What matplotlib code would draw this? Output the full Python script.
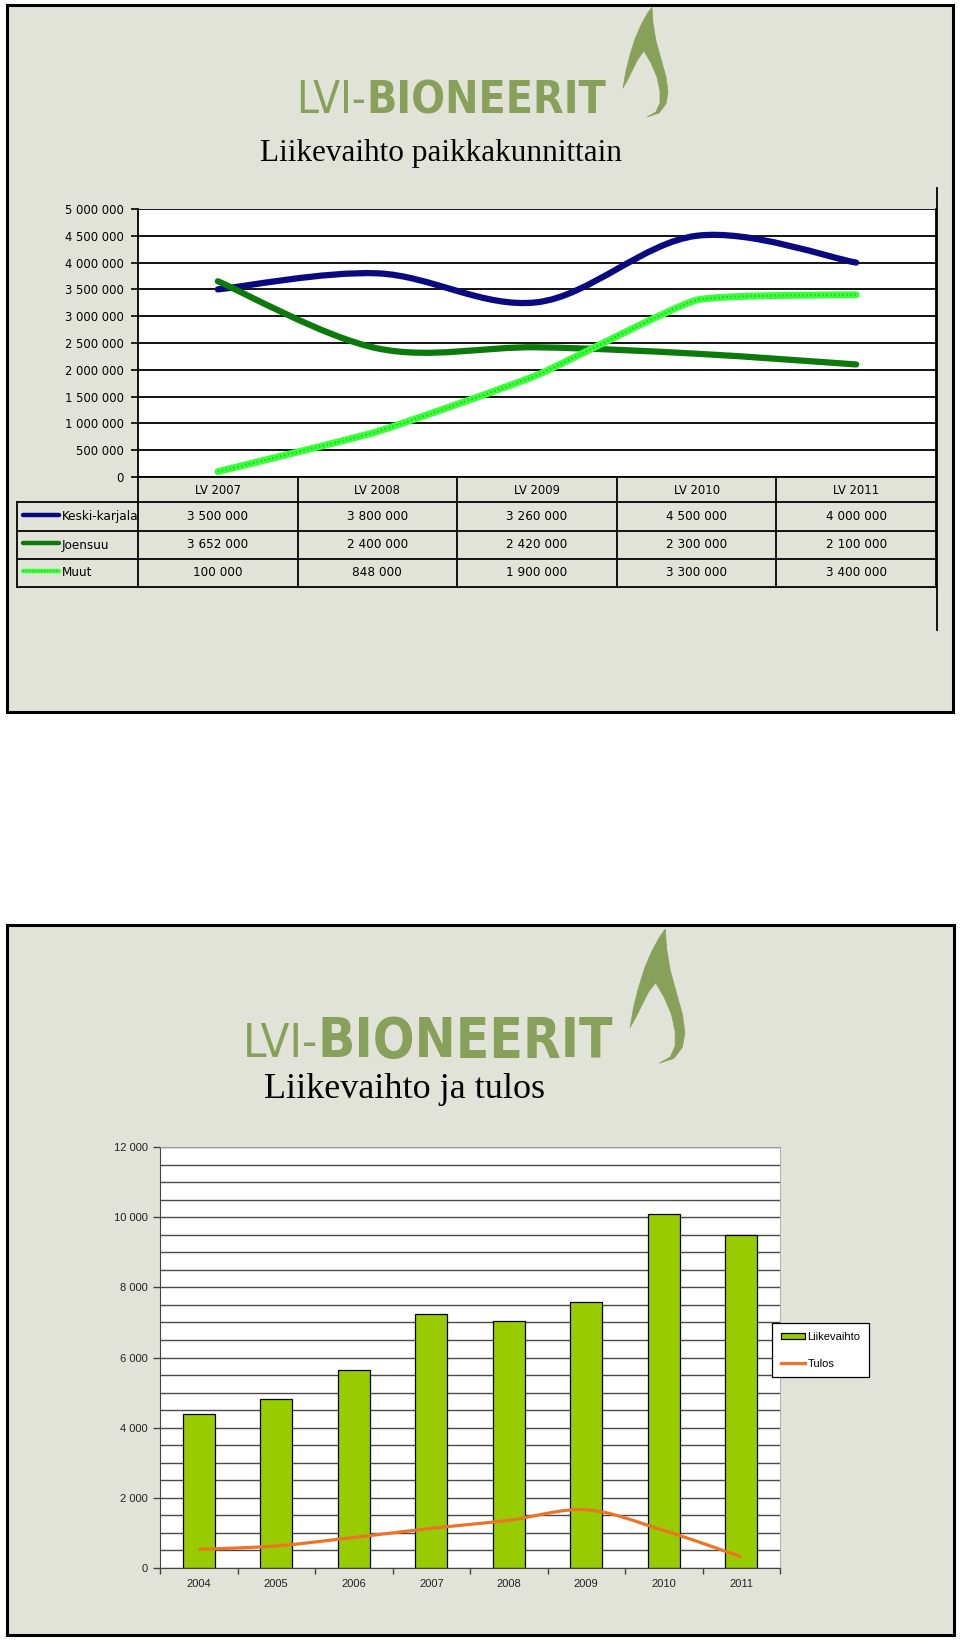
import numpy as np
import matplotlib
matplotlib.use("Agg")
import matplotlib.pyplot as plt
from matplotlib import font_manager as fm
from matplotlib.path import Path
from matplotlib.patches import PathPatch, Rectangle, Patch, Polygon
from matplotlib.lines import Line2D
from matplotlib.transforms import blended_transform_factory

# --- data ---
top_years = ["LV 2007", "LV 2008", "LV 2009", "LV 2010", "LV 2011"]
top_names = ["Keski-karjala", "Joensuu", "Muut"]
keski = [3500000, 3800000, 3260000, 4500000, 4000000]
joensuu = [3652000, 2400000, 2420000, 2300000, 2100000]
muut = [100000, 848000, 1900000, 3300000, 3400000]
top_colors = ["#0a0a80", "#0b7a0b", "#3cff3c"]

bot_years = ["2004", "2005", "2006", "2007", "2008", "2009", "2010", "2011"]
liikevaihto = [4400, 4830, 5630, 7240, 7050, 7580, 10090, 9490]
tulos = [530, 630, 870, 1130, 1360, 1660, 1070, 320]

W, H = 960, 1642
PANEL = "#e2e3d8"
LOGO = "#87a15b"
SANS = ["Liberation Sans", "DejaVu Sans"]
SERIF = ["Liberation Serif", "DejaVu Serif"]


def find_narrow():
    cands = [("Liberation Sans Narrow", "normal"), ("DejaVu Sans Condensed", "normal"),
             ("DejaVu Sans", "condensed"), ("Noto Sans", "condensed"),
             ("Open Sans", "condensed"), ("Roboto Condensed", "normal")]
    for fam, st in cands:
        try:
            p = fm.findfont(fm.FontProperties(family=fam, stretch=st),
                            fallback_to_default=False)
        except Exception:
            continue
        if "arrow" in p or "ondensed" in p:
            return {"family": fam, "stretch": st}
    return None


nf = find_narrow()
if nf:
    NKW, NSIZE = nf, 9.3
else:
    NKW, NSIZE = {"family": SANS}, 8.8


def fmt(v):
    return f"{v:,}".replace(",", " ")


def smooth_path(xs, ys, k=1 / 6):
    # smoothed line like the spreadsheet: cubic bezier through the data points
    p = np.column_stack([xs, ys]).astype(float)
    n = len(p)
    verts, codes = [p[0]], [Path.MOVETO]
    for i in range(n - 1):
        p0 = p[i - 1] if i > 0 else p[i]
        p3 = p[i + 2] if i + 2 < n else p[i + 1]
        verts += [p[i] + (p[i + 1] - p0) * k, p[i + 1] - (p3 - p[i]) * k, p[i + 1]]
        codes += [Path.CURVE4] * 3
    return Path(verts, codes)


def px_axes(l, t, r, b):
    return fig.add_axes([l / W, 1 - b / H, (r - l) / W, (b - t) / H])


# flame outline of the logo, local pixels (top logo scale)
FLAME = [(29, 0), (24, 7), (18, 18), (12, 32), (7, 48), (3, 64), (0, 81),
         (5, 72), (10, 62), (15, 52), (21, 44), (28, 56), (34, 70), (37, 84),
         (37, 96), (33, 105), (24, 110), (36, 106), (43, 97), (45, 85),
         (43, 70), (38, 52), (33, 34), (30, 16)]


def logo(ax, x, base, w_lvi, w_bio, fx, fy, fs):
    t1 = ax.text(x, base, "LVI-", color=LOGO, fontsize=30, ha="left",
                 va="baseline", **NKW)
    t2 = ax.text(x, base, "BIONEERIT", color=LOGO, fontsize=30, ha="left",
                 va="baseline", fontweight="bold", **NKW)
    fig.canvas.draw()
    t1.set_fontsize(30 * w_lvi / t1.get_window_extent().width)
    t2.set_fontsize(30 * w_bio / t2.get_window_extent().width)
    t2.set_x(x + w_lvi)
    pts = [(fx + a * fs, fy + b * fs) for a, b in FLAME]
    ax.add_patch(Polygon(pts, closed=True, facecolor=LOGO, edgecolor=LOGO,
                         lw=0.5, joinstyle="round"))


fig = plt.figure(figsize=(W / 100, H / 100), dpi=100)
fig.patch.set_facecolor("white")
bg = fig.add_axes([0, 0, 1, 1])
bg.set_xlim(0, W)
bg.set_ylim(H, 0)
bg.axis("off")

# panels
for (l, t, r, b) in [(7, 5, 953, 712), (7, 925, 954, 1635)]:
    bg.add_patch(Rectangle((l, t), r - l, b - t, facecolor=PANEL,
                           edgecolor="black", lw=2.2))

# ---------------- top chart ----------------
logo(bg, 296, 113, 70, 239, 623, 7, 1.0)
bg.text(441, 161, "Liikevaihto paikkakunnittain", family=SERIF, fontsize=22.5,
        ha="center", va="baseline")

ax1 = px_axes(138, 209, 936, 477)
ax1.set_facecolor("white")
ax1.set_xlim(-0.5, len(top_years) - 0.5)
ax1.set_ylim(0, 5000000)
yt = np.arange(0, 5000001, 500000)
ax1.set_yticks(yt)
ax1.set_yticklabels([fmt(v) for v in yt], fontsize=NSIZE, **NKW)
ax1.set_xticks([])
ax1.tick_params(axis="y", length=5, width=1.2, pad=5)
ax1.grid(axis="y", color="black", lw=1.3)
ax1.set_axisbelow(True)
for s in ax1.spines.values():
    s.set_color("black")
    s.set_linewidth(1.3)
ax1.spines["top"].set_visible(False)

xs = np.arange(len(top_years))
for vals, col in zip([keski, joensuu], top_colors[:2]):
    ax1.add_patch(PathPatch(smooth_path(xs, vals), fill=False, edgecolor=col,
                            lw=4.5, capstyle="round", zorder=3))
ax1.add_patch(PathPatch(smooth_path(xs, muut, 1 / 14), fill=False,
                        edgecolor=top_colors[2], lw=5, capstyle="round", zorder=3))
ax1.add_patch(PathPatch(smooth_path(xs, muut, 1 / 14), fill=False, edgecolor="#24d024",
                        lw=1.6, linestyle=(0, (0.7, 1.1)), zorder=4))

# data table under the chart
tr = blended_transform_factory(ax1.transData, bg.transData)
row_y = [477, 502, 531, 559, 587]
lw_t = 1.3
for y in row_y[1:]:
    bg.plot([17, 936], [y, y], color="black", lw=lw_t)
bg.plot([17, 17], [502, 587], color="black", lw=lw_t)
for i in range(len(top_years) + 1):
    ax1.plot([i - 0.5, i - 0.5], [477, 587], color="black", lw=lw_t,
             transform=tr, clip_on=False)
for i, yr in enumerate(top_years):
    ax1.text(i, 491, yr, transform=tr, ha="center", va="center",
             fontsize=NSIZE, **NKW)
for r, (name, vals, col) in enumerate(zip(top_names, [keski, joensuu, muut], top_colors)):
    yc = (row_y[r + 1] + row_y[r + 2]) / 2
    for i, v in enumerate(vals):
        ax1.text(i, yc, fmt(v), transform=tr, ha="center", va="center",
                 fontsize=NSIZE + 0.3, **NKW)
    bg.text(62, yc, name, ha="left", va="center", fontsize=NSIZE + 0.3, **NKW)
    bg.plot([23, 59], [yc - 1.5, yc - 1.5], color=col, lw=3.2,
            solid_capstyle="round")
    if r == 2:
        bg.plot([23, 59], [yc - 1.5, yc - 1.5], color="#24d024", lw=1.2,
                linestyle=(0, (0.7, 1.1)))
bg.plot([937, 937], [188, 630], color="black", lw=1.3)

# ---------------- bottom chart ----------------
logo(bg, 243, 1057, 75, 294, 630, 929, 1.22)
bg.text(404, 1098, "Liikevaihto ja tulos", family=SERIF, fontsize=26,
        ha="center", va="baseline")

ax2 = px_axes(160, 1147, 780, 1568)
ax2.set_facecolor("white")
xb = np.arange(len(bot_years))
ax2.bar(xb, liikevaihto, width=0.41, color="#99cc00", edgecolor="black",
        lw=0.9, zorder=2)
ax2.add_patch(PathPatch(smooth_path(xb, tulos), fill=False, edgecolor="#ec7426",
                        lw=2.3, capstyle="butt", zorder=3))
ax2.set_xlim(-0.5, len(bot_years) - 0.5)
ax2.set_ylim(0, 12000)
ax2.set_yticks(np.arange(0, 12001, 2000))
ax2.set_yticklabels([fmt(v) for v in range(0, 12001, 2000)], family=SANS,
                    fontsize=8, color="#222222")
ax2.set_yticks(np.arange(0, 12001, 500), minor=True)
ax2.set_xticks(xb)
ax2.set_xticklabels(bot_years, family=SANS, fontsize=8, color="#222222")
ax2.set_xticks(np.arange(-0.5, len(bot_years)), minor=True)
ax2.tick_params(axis="x", which="major", length=0, pad=8)
ax2.tick_params(axis="x", which="minor", length=4, width=1, color="#444444")
ax2.tick_params(axis="y", which="major", length=5, width=1, color="#444444", pad=4)
ax2.tick_params(axis="y", which="minor", length=0)
ax2.grid(axis="y", which="both", color="#4a4a4a", lw=1.0, zorder=0)
ax2.set_axisbelow(True)
ax2.spines["left"].set_color("#444444")
ax2.spines["bottom"].set_color("#444444")
ax2.spines["top"].set_color("#9a9a9a")
ax2.spines["right"].set_color("#b0b0b0")

handles = [Patch(facecolor="#99cc00", edgecolor="black", lw=0.9),
           Line2D([], [], color="#ec7426", lw=2.3)]
leg = ax2.legend(handles, ["Liikevaihto", "Tulos"], loc="upper left",
                 bbox_to_anchor=(772 / W, 1 - 1323 / H), bbox_transform=fig.transFigure,
                 frameon=True, fancybox=False, framealpha=1, edgecolor="black",
                 prop={"family": SANS, "size": 8}, labelspacing=1.5,
                 handlelength=2.2, handleheight=0.5, handletextpad=0.2,
                 borderpad=0.8, borderaxespad=0)
leg.get_frame().set_linewidth(0.9)
leg.set_zorder(5)

fig.savefig("out.png", dpi=100)
